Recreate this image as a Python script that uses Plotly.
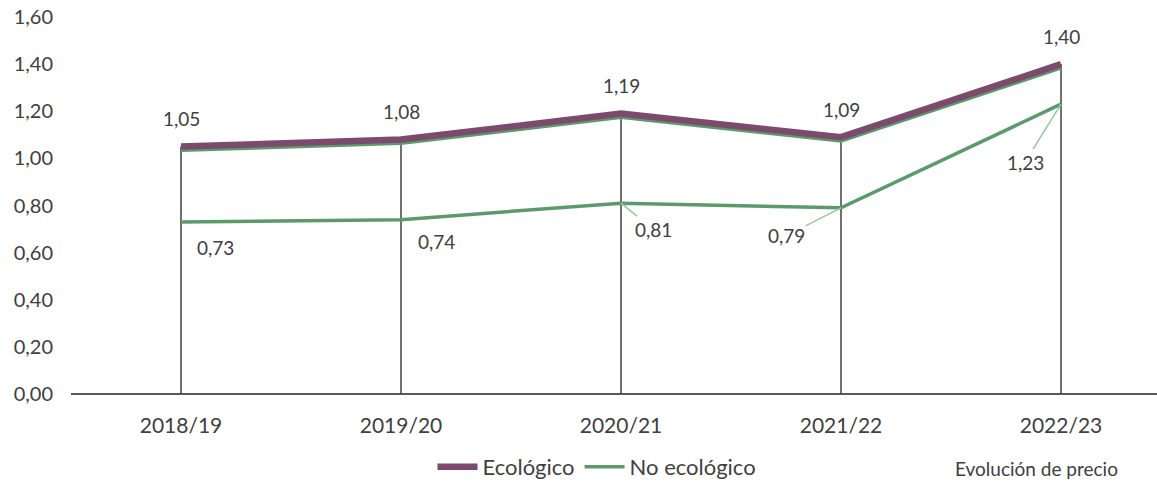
import plotly.graph_objects as go

campaigns = ["2018/19", "2019/20", "2020/21", "2021/22", "2022/23"]
ecologico = [1.05, 1.08, 1.19, 1.09, 1.40]
no_ecologico = [0.73, 0.74, 0.81, 0.79, 1.23]
y_ticks = [0.0, 0.2, 0.4, 0.6, 0.8, 1.0, 1.2, 1.4, 1.6]

PURPLE = "#7c4a6d"
GREEN = "#5b9a6b"
LIGHT_GREEN = "#93c9a0"
TEXT = "#404040"
FONT = "Lato"

def fmt(v):
    return f"{v:.2f}".replace(".", ",")

xs = list(range(len(campaigns)))

fig = go.Figure()

# vertical drop lines from each Ecológico point to the axis
drop_x, drop_y = [], []
for i, v in zip(xs, ecologico):
    drop_x += [i, i, None]
    drop_y += [0, v, None]
fig.add_trace(go.Scatter(x=drop_x, y=drop_y, mode="lines",
                         line=dict(color="#404040", width=1.5),
                         showlegend=False, hoverinfo="skip"))

# No ecológico line
fig.add_trace(go.Scatter(x=xs, y=no_ecologico, mode="lines", name="No ecológico",
                         line=dict(color=GREEN, width=3.5)))

# green shadow of the Ecológico line (same data, slightly offset axis)
fig.add_trace(go.Scatter(x=xs, y=ecologico, mode="lines", yaxis="y2",
                         line=dict(color=GREEN, width=5), showlegend=False,
                         hoverinfo="skip"))

# Ecológico line (on an identical overlay axis drawn above the shadow)
fig.add_trace(go.Scatter(x=xs, y=ecologico, mode="lines", name="Ecológico", yaxis="y3",
                         line=dict(color=PURPLE, width=6.5)))

LABEL_FONT = dict(family=FONT, size=19, color=TEXT)

annotations = []
for i, v in zip(xs, ecologico):
    annotations.append(dict(x=i, y=v, text=fmt(v), showarrow=False,
                            yshift=28, font=LABEL_FONT))

# No ecológico labels: offsets or leader lines
label_specs = [
    dict(showarrow=False, xshift=34, yshift=-26),
    dict(showarrow=False, xshift=35, yshift=-22),
    dict(showarrow=True, ax=32, ay=26),
    dict(showarrow=True, ax=-55, ay=28),
    dict(showarrow=True, ax=-36, ay=58),
]
for i, v, spec in zip(xs, no_ecologico, label_specs):
    a = dict(x=i, y=v, text=fmt(v), font=LABEL_FONT)
    if spec["showarrow"]:
        a.update(showarrow=True, ax=spec["ax"], ay=spec["ay"], arrowhead=0,
                 arrowwidth=1.5, arrowcolor=LIGHT_GREEN, standoff=0)
    else:
        a.update(showarrow=False, xshift=spec["xshift"], yshift=spec["yshift"])
    annotations.append(a)

annotations.append(dict(xref="paper", yref="paper", x=(953 - 71) / 1086, y=(394 - 482) / 377,
                        xanchor="left", yanchor="bottom", showarrow=False,
                        text="Evolución de precio", font=dict(family=FONT, size=19, color=TEXT)))

shift = 3 * 1.6 / 377

fig.update_layout(
    width=1157, height=482,
    margin=dict(l=71, r=0, t=17, b=88, autoexpand=False),
    paper_bgcolor="white", plot_bgcolor="white",
    font=dict(family=FONT, size=19, color=TEXT),
    xaxis=dict(range=[-0.5, (1157 - 71) / 220 - 0.5], tickvals=xs, ticktext=campaigns,
               showgrid=False, zeroline=False, showline=False, ticks="",
               ticklabelstandoff=17, automargin=False,
               tickfont=dict(family=FONT, size=21, color=TEXT)),
    yaxis=dict(range=[0, 1.6], tickvals=y_ticks, ticktext=[fmt(t) for t in y_ticks],
               showgrid=False, zeroline=True, zerolinecolor="#595959", zerolinewidth=2,
               showline=False, ticks="", ticklabelstandoff=17, automargin=False,
               tickfont=dict(family=FONT, size=20, color=TEXT)),
    yaxis2=dict(range=[shift, 1.6 + shift], overlaying="y", visible=False),
    yaxis3=dict(range=[0, 1.6], overlaying="y", visible=False),
    legend=dict(orientation="h", x=(597 - 71) / 1086, xanchor="center",
                y=(394 - 467) / 377, yanchor="middle",
                traceorder="reversed", font=dict(family=FONT, size=22, color=TEXT),
                itemwidth=40, tracegroupgap=0),
    annotations=annotations,
    showlegend=True,
)

fig.write_html("out.html", config={"displayModeBar": False},
               post_script="document.body.style.margin='0';document.body.style.overflow='hidden';")
